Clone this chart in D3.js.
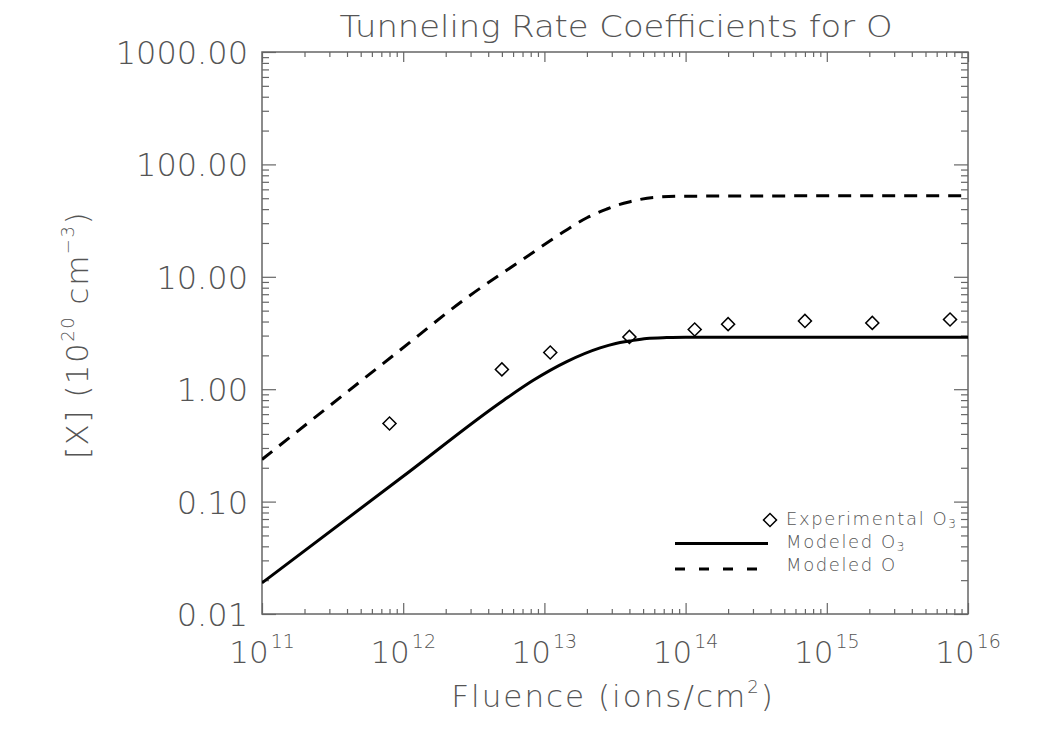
<!DOCTYPE html>
<html>
<head>
<meta charset="utf-8">
<script src="https://cdn.jsdelivr.net/npm/d3@7"></script>
<style>
    body { margin: 0; background: #fff; }
    text { font-family: "DejaVu Sans", sans-serif; font-weight: 200; fill: #555; }
</style>
</head>
<body>
<svg id="chart" width="1050" height="750"></svg>
<script>

// experimental O3 points
var expFluence = [8.0e11, 5.0e12, 1.1e13, 4.0e13, 1.16e14, 2.0e14, 7.0e14, 2.1e15, 7.46e15]
var expO3 = [0.495, 1.50, 2.12, 2.92, 3.40, 3.79, 4.05, 3.89, 4.17]

// modeled O3 (solid)
var modO3Fluence = [1e11, 1e12, 5.15e12, 8.34e12, 1.44e13, 2.48e13, 3.2e13, 3.99e13, 5.3e13, 7.35e13, 1e14, 1e15, 1e16]
var modO3 = [0.0189, 0.168, 0.798, 1.20, 1.76, 2.33, 2.55, 2.68, 2.83, 2.88, 2.90, 2.90, 2.90]

// modeled O (dashed)
var modOFluence = [1e11, 8.79e11, 2.91e12, 7.05e12, 1.36e13, 2.0e13, 2.76e13, 3.3e13, 4.04e13, 5.9e13, 9.6e13, 1e15, 1e16]
var modO = [0.237, 2.06, 6.7, 14.3, 25.0, 33.5, 40.0, 43.5, 46.6, 50.8, 52.1, 52.5, 52.5]

var xDecades = [11, 12, 13, 14, 15, 16]
var yTickValues = [0.01, 0.1, 1, 10, 100, 1000]
var yTickLabels = ["0.01", "0.10", "1.00", "10.00", "100.00", "1000.00"]

var plotLeft = 262, plotRight = 968, plotTop = 52, plotBottom = 614

var svg = d3.select("#chart")

var x = d3.scaleLog().domain([1e11, 1e16]).range([plotLeft, plotRight])
var y = d3.scaleLog().domain([0.01, 1000]).range([plotBottom, plotTop])

var xMajor = xDecades.map(function(d) { return Math.pow(10, d) })
var xMinor = []
xDecades.slice(0, -1).forEach(function(d) {
    for (var k = 2; k < 10; k++) xMinor.push(k * Math.pow(10, d))
})
var yMinor = []
yTickValues.slice(0, -1).forEach(function(d) {
    for (var k = 2; k < 10; k++) yMinor.push(k * d)
})

function drawAxis(axis, tx, ty) {
    var g = svg.append("g")
        .attr("transform", "translate(" + tx + "," + ty + ")")
        .call(axis)
    g.select(".domain").remove()
    g.selectAll("line").attr("stroke", "#666").attr("stroke-width", 1.2)
    g.selectAll("text").remove()
}

drawAxis(d3.axisBottom(x).tickValues(xMajor).tickSizeInner(-11).tickSizeOuter(0), 0, plotBottom)
drawAxis(d3.axisBottom(x).tickValues(xMinor).tickSizeInner(-5).tickSizeOuter(0), 0, plotBottom)
drawAxis(d3.axisTop(x).tickValues(xMajor).tickSizeInner(-10).tickSizeOuter(0), 0, plotTop)
drawAxis(d3.axisTop(x).tickValues(xMinor).tickSizeInner(-5).tickSizeOuter(0), 0, plotTop)
drawAxis(d3.axisLeft(y).tickValues(yTickValues).tickSizeInner(-14).tickSizeOuter(0), plotLeft, 0)
drawAxis(d3.axisLeft(y).tickValues(yMinor).tickSizeInner(-7).tickSizeOuter(0), plotLeft, 0)
drawAxis(d3.axisRight(y).tickValues(yTickValues).tickSizeInner(-14).tickSizeOuter(0), plotRight, 0)
drawAxis(d3.axisRight(y).tickValues(yMinor).tickSizeInner(-7).tickSizeOuter(0), plotRight, 0)

svg.append("rect")
    .attr("x", plotLeft).attr("y", plotTop)
    .attr("width", plotRight - plotLeft).attr("height", plotBottom - plotTop)
    .attr("fill", "none").attr("stroke", "#666").attr("stroke-width", 1.5)

// y tick labels
svg.selectAll(".ylab").data(yTickValues).enter().append("text")
    .attr("x", 248)
    .attr("y", function(d) { return y(d) + 12 })
    .attr("text-anchor", "end")
    .attr("font-size", 32)
    .text(function(d, i) { return yTickLabels[i] })

// x tick labels 10^n
var xl = svg.selectAll(".xlab").data(xDecades).enter().append("text")
    .attr("x", function(d) { return x(Math.pow(10, d)) })
    .attr("y", 663)
    .attr("text-anchor", "middle")
    .attr("font-size", 31)
xl.append("tspan").text("10")
xl.append("tspan").attr("font-size", 19).attr("dy", -15).attr("dx", 2).text(function(d) { return d })

// title
svg.append("text")
    .attr("x", 616).attr("y", 37)
    .attr("text-anchor", "middle")
    .attr("font-size", 30)
    .attr("textLength", 553).attr("lengthAdjust", "spacingAndGlyphs")
    .text("Tunneling Rate Coefficients for O")

// x label
var xt = svg.append("text")
    .attr("x", 613).attr("y", 707)
    .attr("text-anchor", "middle")
    .attr("font-size", 31)
    .attr("letter-spacing", 2)
xt.append("tspan").text("Fluence (ions/cm")
xt.append("tspan").attr("font-size", 18).attr("dy", -14).text("2")
xt.append("tspan").attr("dy", 14).text(")")

// y label
var yt = svg.append("text")
    .attr("transform", "translate(88,335) rotate(-90)")
    .attr("text-anchor", "middle")
    .attr("font-size", 31)
    .attr("letter-spacing", 1.5)
yt.append("tspan").text("[X] (10")
yt.append("tspan").attr("font-size", 18).attr("dy", -14).text("20")
yt.append("tspan").attr("dy", 14).text(" cm")
yt.append("tspan").attr("font-size", 18).attr("dy", -14).text("\u22123")
yt.append("tspan").attr("dy", 14).text(")")

// curves
svg.append("clipPath").attr("id", "plotclip").append("rect")
    .attr("x", plotLeft).attr("y", plotTop)
    .attr("width", plotRight - plotLeft).attr("height", plotBottom - plotTop)

var line = d3.line()
    .x(function(d) { return x(d[0]) })
    .y(function(d) { return y(d[1]) })
    .curve(d3.curveMonotoneX)

svg.append("path")
    .datum(d3.zip(modOFluence, modO))
    .attr("clip-path", "url(#plotclip)")
    .attr("d", line)
    .attr("fill", "none").attr("stroke", "#000").attr("stroke-width", 3)
    .attr("stroke-dasharray", "13,9")

svg.append("path")
    .datum(d3.zip(modO3Fluence, modO3))
    .attr("clip-path", "url(#plotclip)")
    .attr("d", line)
    .attr("fill", "none").attr("stroke", "#000").attr("stroke-width", 3)

var diamond = d3.symbol().type(d3.symbolSquare).size(85)

svg.selectAll(".pt").data(d3.zip(expFluence, expO3)).enter().append("path")
    .attr("d", diamond)
    .attr("transform", function(d) { return "translate(" + x(d[0]) + "," + y(d[1]) + ") rotate(45)" })
    .attr("fill", "none").attr("stroke", "#000").attr("stroke-width", 1.5)

// legend
var legend = svg.append("g")
legend.append("path")
    .attr("d", diamond)
    .attr("transform", "translate(770,520) rotate(45)")
    .attr("fill", "none").attr("stroke", "#000").attr("stroke-width", 1.5)
legend.append("line")
    .attr("x1", 675).attr("x2", 768).attr("y1", 543.5).attr("y2", 543.5)
    .attr("stroke", "#000").attr("stroke-width", 3)
legend.append("line")
    .attr("x1", 675).attr("x2", 757).attr("y1", 569).attr("y2", 569)
    .attr("stroke", "#000").attr("stroke-width", 3)
    .attr("stroke-dasharray", "10,14")

var legendRows = [
    { label: "Experimental O", sub: "3", y: 525 },
    { label: "Modeled O", sub: "3", y: 548 },
    { label: "Modeled O", sub: "", y: 571 }
]
legendRows.forEach(function(r) {
    var t = legend.append("text")
        .attr("x", 786).attr("y", r.y)
        .attr("font-size", 18)
        .attr("letter-spacing", 1.6)
    t.append("tspan").text(r.label)
    if (r.sub) t.append("tspan").attr("font-size", 12).attr("dy", 3).text(r.sub)
})

</script>
</body>
</html>
